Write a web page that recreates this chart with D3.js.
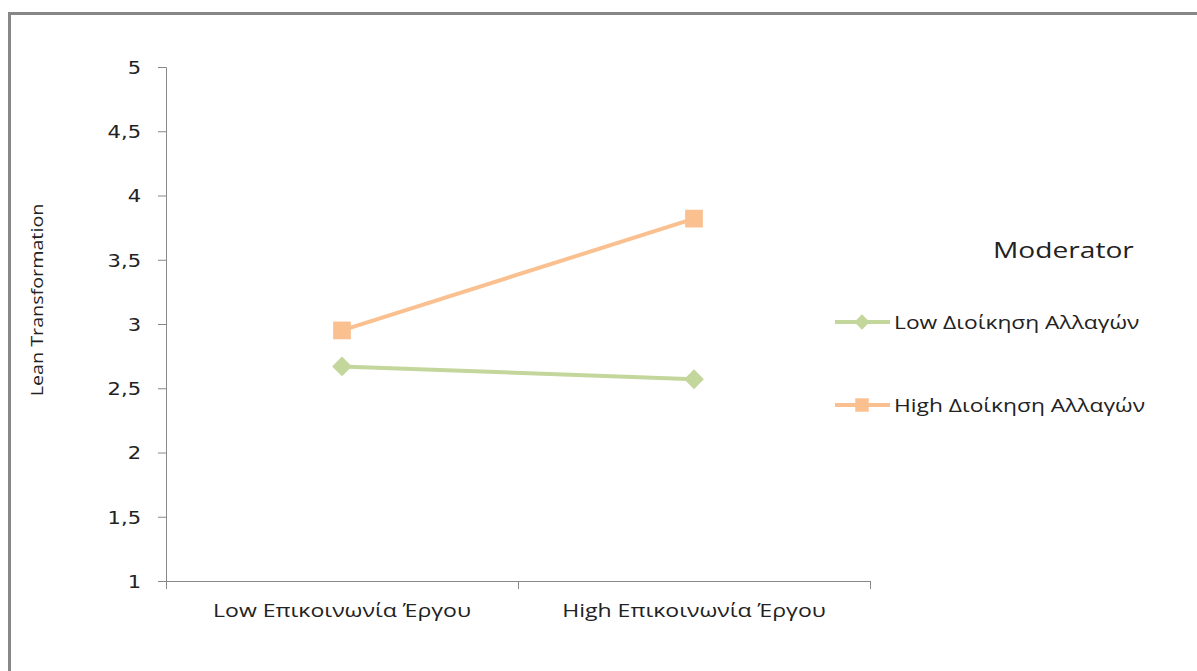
<!DOCTYPE html>
<html>
<head>
<meta charset="utf-8">
<script src="https://cdn.jsdelivr.net/npm/d3@7"></script>
<style>
body{margin:0;background:#fff;}
svg{display:block;}
text{font-family:"Open Sans","DejaVu Sans",sans-serif;fill:#222;}
</style>
</head>
<body>
<svg id="chart" width="1197" height="671"></svg>
<script>
const categories = ["Low Επικοινωνία Έργου", "High Επικοινωνία Έργου"];
const seriesNames = ["Low Διοίκηση Αλλαγών", "High Διοίκηση Αλλαγών"];
const lowValues = [2.67, 2.57];
const highValues = [2.95, 3.82];
const yTicks = [1, 1.5, 2, 2.5, 3, 3.5, 4, 4.5, 5];
const colors = ["#C3D69B", "#FAC090"];

const svg = d3.select("#chart");
// stretch text horizontally by a factor (reference text is wide)
function stretch(sel, factor) {
  sel.each(function() {
    const w = this.getComputedTextLength();
    d3.select(this).attr("textLength", w * factor).attr("lengthAdjust", "spacingAndGlyphs");
  });
}

// outer frame
svg.append("path").attr("d", "M9.5,1300 V13.5 H1300")
  .attr("fill","none").attr("stroke","#878787").attr("stroke-width",3);

const x0 = 166, x1 = 870, yTop = 67, yBot = 581;
const y = d3.scaleLinear().domain([1,5]).range([yBot, yTop]);
const xb = d3.scaleBand().domain(categories).range([x0, x1]);
const xc = d => xb(d) + xb.bandwidth()/2;

// y axis
const yAxis = d3.axisLeft(y).tickValues(yTicks).tickSize(8).tickPadding(17)
  .tickFormat(d => String(d).replace(".", ","));
const gy = svg.append("g").attr("transform", `translate(${x0},0)`).call(yAxis);
gy.select(".domain").attr("stroke","#888").attr("d", `M-8,${yTop}.5H0.5V${yBot}.5H-8`);
gy.selectAll(".tick line").attr("stroke","#888");
gy.selectAll(".tick text").style("font-family","'DejaVu Sans',sans-serif")
  .style("font-size","17.5px").attr("fill","#222").attr("dy","0.36em");
stretch(gy.selectAll(".tick text"), 1.2);

// x axis
const gx = svg.append("g").attr("transform", `translate(0,${yBot})`);
gx.append("line").attr("x1",x0).attr("x2",x1).attr("y1",0.5).attr("y2",0.5).attr("stroke","#888");
const bounds = [x0].concat(categories.map(c => xb(c)+xb.bandwidth()));
gx.selectAll("line.t").data(bounds).enter().append("line").attr("class","t")
  .attr("x1",d=>d+0.5).attr("x2",d=>d+0.5).attr("y1",0).attr("y2",8).attr("stroke","#888");
const xl = gx.selectAll("text").data(categories).enter().append("text")
  .attr("x", d => xc(d)).attr("y", 36).attr("text-anchor","middle")
  .style("font-size","18px").text(d => d);
stretch(xl, 1.28);

// y title
const yt = svg.append("text").attr("transform","translate(43,300) rotate(-90)")
  .attr("text-anchor","middle").style("font-size","17px")
  .text("Lean Transformation");
stretch(yt, 1.16);

// series
const series = [lowValues, highValues];
const line = d3.line().x((d,i) => xc(categories[i])).y(d => y(d));
const symGen = [d3.symbol().type(d3.symbolDiamond2).size(250), d3.symbol().type(d3.symbolSquare2).size(400)];
series.forEach((vals, s) => {
  svg.append("path").datum(vals).attr("d", line).attr("fill","none")
    .attr("stroke", colors[s]).attr("stroke-width", 4);
  svg.selectAll(null).data(vals).enter().append("path")
    .attr("transform", (d,i) => `translate(${xc(categories[i])},${y(d)})`)
    .attr("d", symGen[s]).attr("fill", colors[s]);
});

// legend
const mt = svg.append("text").attr("x", 993).attr("y", 258).style("font-size","21px").text("Moderator");
stretch(mt, 1.34);
const legY = [322, 405];
seriesNames.forEach((name, s) => {
  const g = svg.append("g");
  g.append("line").attr("x1",835).attr("x2",890).attr("y1",legY[s]).attr("y2",legY[s])
    .attr("stroke",colors[s]).attr("stroke-width",4);
  g.append("path").attr("transform",`translate(862,${legY[s]})`)
    .attr("d", d3.symbol().type(s===0?d3.symbolDiamond2:d3.symbolSquare2).size(s===0?150:230)())
    .attr("fill",colors[s]);
  const t = g.append("text").attr("x",894).attr("y",legY[s]+7).style("font-size","18.5px").text(name);
  stretch(t, 1.23);
});
</script>
</body>
</html>
